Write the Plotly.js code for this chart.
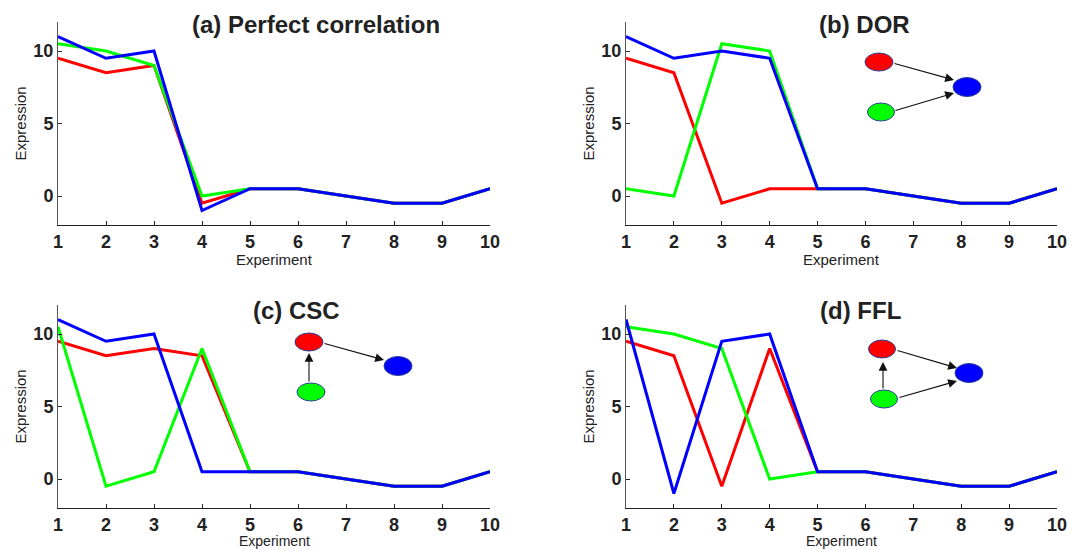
<!DOCTYPE html>
<html>
<head>
<meta charset="utf-8">
<script src="https://cdn.plot.ly/plotly-3.0.1.min.js"></script>
<style>html,body{margin:0;padding:0;background:#fff;}#chart{width:1083px;height:550px;}</style>
</head>
<body>
<div id="chart"></div>
<script>
// ---- Data ----
const experiments = [1, 2, 3, 4, 5, 6, 7, 8, 9, 10];

const panelTitles = ["(a) Perfect correlation", "(b) DOR", "(c) CSC", "(d) FFL"];
const xTickLabels = ["1", "2", "3", "4", "5", "6", "7", "8", "9", "10"];
const yTickValues = [0, 5, 10];
const xAxisLabel = "Experiment";
const yAxisLabel = "Expression";

// (a) Perfect correlation
const perfectRed   = [9.5, 8.5, 9, -0.5, 0.5, 0.5, 0, -0.5, -0.5, 0.5];
const perfectGreen = [10.5, 10, 9, 0, 0.5, 0.5, 0, -0.5, -0.5, 0.5];
const perfectBlue  = [11, 9.5, 10, -1, 0.5, 0.5, 0, -0.5, -0.5, 0.5];

// (b) DOR
const dorRed   = [9.5, 8.5, -0.5, 0.5, 0.5, 0.5, 0, -0.5, -0.5, 0.5];
const dorGreen = [0.5, 0, 10.5, 10, 0.5, 0.5, 0, -0.5, -0.5, 0.5];
const dorBlue  = [11, 9.5, 10, 9.5, 0.5, 0.5, 0, -0.5, -0.5, 0.5];

// (c) CSC
const cscRed   = [9.5, 8.5, 9, 8.5, 0.5, 0.5, 0, -0.5, -0.5, 0.5];
const cscGreen = [10.5, -0.5, 0.5, 9, 0.5, 0.5, 0, -0.5, -0.5, 0.5];
const cscBlue  = [11, 9.5, 10, 0.5, 0.5, 0.5, 0, -0.5, -0.5, 0.5];

// (d) FFL
const fflRed   = [9.5, 8.5, -0.5, 9, 0.5, 0.5, 0, -0.5, -0.5, 0.5];
const fflGreen = [10.5, 10, 9, 0, 0.5, 0.5, 0, -0.5, -0.5, 0.5];
const fflBlue  = [11, -1, 9.5, 10, 0.5, 0.5, 0, -0.5, -0.5, 0.5];

// ---- Styling / layout ----
const W = 1083, H = 550;
const RED = "#ff0000", GREEN = "#00ff00", BLUE = "#0000ff";
const FONT = "'Liberation Sans', Arial, Helvetica, sans-serif";
const px = v => v / W;            // pixel -> paper x
const py = v => 1 - v / H;        // pixel -> paper y

const panels = [
  {red: perfectRed, green: perfectGreen, blue: perfectBlue, xa: "x",  ya: "y",  xl: 58,  xr: 490,  yt: 22,  yb: 225, title: [316, 24],  xt: 34, xfs: 15},
  {red: dorRed,     green: dorGreen,     blue: dorBlue,     xa: "x2", ya: "y2", xl: 626, xr: 1057, yt: 22,  yb: 225, title: [864, 24],  xt: 34, xfs: 15},
  {red: cscRed,     green: cscGreen,     blue: cscBlue,     xa: "x3", ya: "y3", xl: 58,  xr: 490,  yt: 305, yb: 508, title: [296, 310], xt: 33, xfs: 14},
  {red: fflRed,     green: fflGreen,     blue: fflBlue,     xa: "x4", ya: "y4", xl: 626, xr: 1057, yt: 305, yb: 508, title: [860, 310], xt: 33, xfs: 14}
];

const traces = [];
panels.forEach((p, i) => {
  [[p.red, RED, "Red gene"], [p.green, GREEN, "Green gene"], [p.blue, BLUE, "Blue gene"]].forEach(([vals, col, nm]) => {
    traces.push({
      x: experiments, y: vals, xaxis: p.xa, yaxis: p.ya,
      type: "scatter", mode: "lines", name: nm, showlegend: false,
      line: {color: col, width: 3}, hoverinfo: "x+y"
    });
  });
});

const layout = {
  width: W, height: H,
  margin: {l: 0, r: 0, t: 0, b: 0},
  paper_bgcolor: "#fff", plot_bgcolor: "#fff",
  font: {family: FONT, color: "#222"},
  showlegend: false,
  annotations: [], shapes: []
};

panels.forEach((p, i) => {
  const n = i === 0 ? "" : String(i + 1);
  layout["xaxis" + n] = {
    domain: [px(p.xl), px(p.xr)], anchor: "y" + n,
    range: [1, 10], tickvals: experiments, ticktext: xTickLabels,
    ticks: "inside", ticklen: 4, tickwidth: 1, tickcolor: "#222",
    showline: true, linecolor: "#222", linewidth: 1, mirror: false,
    showgrid: false, zeroline: false,
    tickfont: {family: FONT, size: 18, color: "#222", weight: "bold"},
    fixedrange: true
  };
  layout["yaxis" + n] = {
    domain: [py(p.yb), py(p.yt)], anchor: "x" + n,
    range: [-2, 12], tickvals: yTickValues,
    ticks: "inside", ticklen: 4, tickwidth: 1, tickcolor: "#222",
    showline: true, linecolor: "#555", linewidth: 1, mirror: false,
    showgrid: false, zeroline: false,
    tickfont: {family: FONT, size: 18, color: "#222", weight: "bold"},
    fixedrange: true
  };
  // panel title
  layout.annotations.push({
    text: "<b>" + panelTitles[i] + "</b>", xref: "paper", yref: "paper",
    x: px(p.title[0]), y: py(p.title[1]), xanchor: "center", yanchor: "middle",
    showarrow: false, font: {family: FONT, size: 24, color: "#222"}
  });
  // axis titles
  layout.annotations.push({
    text: xAxisLabel, xref: "paper", yref: "paper",
    x: px((p.xl + p.xr) / 2), y: py(p.yb + p.xt), xanchor: "center", yanchor: "middle",
    showarrow: false, font: {family: FONT, size: p.xfs, color: "#222"}
  });
  layout.annotations.push({
    text: yAxisLabel, xref: "paper", yref: "paper", textangle: -90,
    x: px(p.xl - 38), y: py((p.yt + p.yb) / 2), xanchor: "center", yanchor: "middle",
    showarrow: false, font: {family: FONT, size: 15, color: "#222"}
  });
});

// ---- Network motif diagrams (decorations, in pixel coords) ----
const OUTLINE = "#2b3f93";
function node(cx, cy, w, h, col) {
  layout.shapes.push({
    type: "circle", xref: "paper", yref: "paper",
    x0: px(cx - w / 2), x1: px(cx + w / 2), y0: py(cy + h / 2), y1: py(cy - h / 2),
    fillcolor: col, line: {color: OUTLINE, width: 1}
  });
}
function arrow(x0, y0, x1, y1) {
  layout.annotations.push({
    xref: "paper", yref: "paper", x: px(x1), y: py(y1),
    axref: "pixel", ayref: "pixel", ax: x0 - x1, ay: y0 - y1,
    text: "", showarrow: true, arrowhead: 2, arrowsize: 1.6, arrowwidth: 1.1,
    arrowcolor: "#111", standoff: 0, startstandoff: 0
  });
}
// (b) DOR
node(879, 62, 28, 18, RED);
node(881, 112, 27, 18, GREEN);
node(967, 87, 28, 19, BLUE);
arrow(893, 63, 954, 80);
arrow(894, 111, 954, 93);
// (c) CSC
node(309, 342, 28, 18, RED);
node(311, 392, 28, 18, GREEN);
node(398, 366, 28, 19, BLUE);
arrow(323, 343, 384, 360);
arrow(309, 383, 309, 353);
// (d) FFL
node(882, 349, 27, 18, RED);
node(884, 399, 27, 18, GREEN);
node(969, 373, 28, 19, BLUE);
arrow(896, 350, 957, 368);
arrow(898, 398, 957, 381);
arrow(883, 390, 883, 362);

Plotly.newPlot("chart", traces, layout, {staticPlot: true, displayModeBar: false});
</script>
</body>
</html>
